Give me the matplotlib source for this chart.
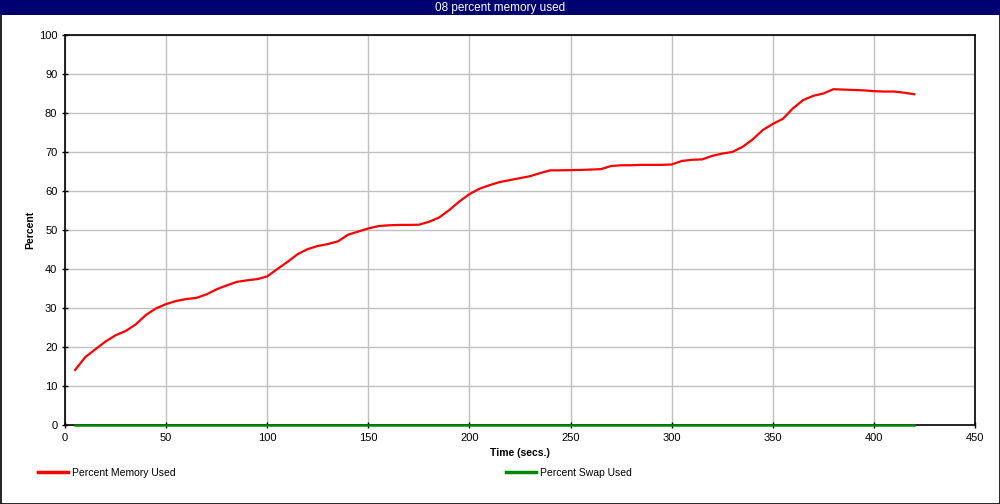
import matplotlib
matplotlib.use("Agg")
import matplotlib.pyplot as plt
from matplotlib.patches import Rectangle
from matplotlib.lines import Line2D

time_s = [5, 10, 15, 20, 25, 30, 35, 40, 45, 50, 55, 60, 65, 70, 75, 80, 85, 90, 95, 100,
          105, 110, 115, 120, 125, 130, 135, 140, 145, 150, 155, 160, 165, 170, 175, 180,
          185, 190, 195, 200, 205, 210, 215, 220, 225, 230, 235, 240, 245, 250, 255, 260,
          265, 270, 275, 280, 285, 290, 295, 300, 305, 310, 315, 320, 325, 330, 335, 340,
          345, 350, 355, 360, 365, 370, 375, 380, 385, 390, 395, 400, 405, 410, 415, 420]
mem_used = [14.1, 17.4, 19.4, 21.4, 23.0, 24.1, 25.8, 28.2, 29.9, 31.0, 31.8, 32.3, 32.6,
            33.5, 34.8, 35.8, 36.7, 37.1, 37.4, 38.1, 40.0, 41.8, 43.8, 45.1, 45.9, 46.4,
            47.1, 48.8, 49.6, 50.4, 51.0, 51.2, 51.3, 51.3, 51.35, 52.1, 53.2, 55.1, 57.3,
            59.2, 60.6, 61.5, 62.3, 62.8, 63.3, 63.8, 64.6, 65.3, 65.3, 65.35, 65.4, 65.5,
            65.6, 66.4, 66.6, 66.6, 66.7, 66.7, 66.7, 66.8, 67.7, 68.0, 68.1, 69.0, 69.6,
            70.0, 71.3, 73.2, 75.6, 77.2, 78.5, 81.2, 83.3, 84.4, 85.0, 86.1, 86.0, 85.9,
            85.8, 85.6, 85.5, 85.5, 85.2, 84.8]
swap_used = [0.0] * len(time_s)

x_ticks = [0, 50, 100, 150, 200, 250, 300, 350, 400, 450]
y_ticks = [0, 10, 20, 30, 40, 50, 60, 70, 80, 90, 100]

title = "08 percent memory used"
x_label = "Time (secs.)"
y_label = "Percent"
series_names = ["Percent Memory Used", "Percent Swap Used"]

plt.rcParams['font.family'] = ['Liberation Sans', 'DejaVu Sans']

W, H = 1000, 504
fig = plt.figure(figsize=(W / 100, H / 100), dpi=100)
fig.patch.set_facecolor('white')

# outer border and title bar
fig.add_artist(Rectangle((0.5 / W, 0.5 / H), (W - 1) / W, (H - 1) / H, transform=fig.transFigure,
                         fill=False, edgecolor='black', linewidth=1.2))
fig.add_artist(Rectangle((0, 1 - 15 / H), 1, 15 / H, transform=fig.transFigure,
                         facecolor='#000070', edgecolor='none'))
fig.text(0.5, 1 - 7.5 / H, title, color='white', ha='center', va='center', fontsize=8.5)

ax = fig.add_axes([65 / W, 1 - 425 / H, 910 / W, 390 / H])
ax.plot(time_s, mem_used, color='#ff0000', linewidth=1.6, solid_joinstyle='round', zorder=5)
ax.plot(time_s, swap_used, color='#008800', linewidth=1.8, zorder=5, clip_on=False)
ax.set_xlim(0, 450)
ax.set_ylim(0, 100)
ax.set_xticks(x_ticks)
ax.set_yticks(y_ticks)
ax.grid(True, color='#c0c0c0', linewidth=1)
ax.set_axisbelow(True)
for s in ax.spines.values():
    s.set_color('black')
    s.set_linewidth(1.2)
    s.set_zorder(2)
ax.tick_params(axis='both', labelsize=8, length=4, width=1, color='black', direction='inout')
ax.set_xlabel(x_label, fontsize=7.5, fontweight='bold')
ax.set_ylabel(y_label, fontsize=7.5, fontweight='bold')
ax.yaxis.set_label_coords(-30 / 910, 0.5)
ax.xaxis.set_label_coords(0.5, -23 / 390)

# legend entries
handles = [Line2D([], [], color='#ff0000', linewidth=2.5),
           Line2D([], [], color='#008800', linewidth=2.5)]
for h, name, xpos in zip(handles, series_names, [38, 506]):
    fig.legend([h], [name], loc='center left', bbox_to_anchor=(xpos / W, 1 - 473 / H),
               frameon=False, fontsize=7.5, handlelength=2.9, handletextpad=0.35,
               borderpad=0, borderaxespad=0)

fig.savefig('out.png', dpi=100)
